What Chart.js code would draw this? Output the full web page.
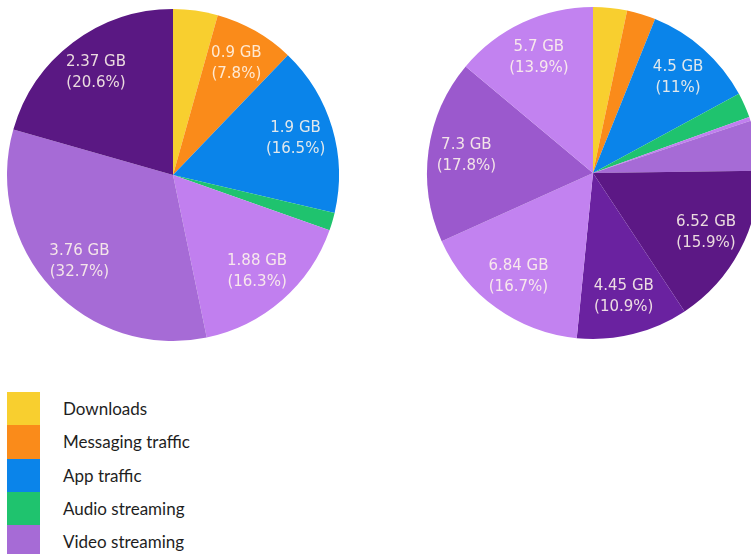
<!DOCTYPE html>
<html>
<head>
<meta charset="utf-8">
<script src="https://cdn.jsdelivr.net/npm/chart.js@4/dist/chart.umd.min.js"></script>
<style>
  html, body { margin: 0; padding: 0; background: #fff; }
  #page { position: relative; width: 751px; height: 554px; overflow: hidden; }
  #leftPie { position: absolute; left: 0; top: 0; }
  #rightPie { position: absolute; left: 420px; top: 0; }
  #legend { position: absolute; left: 7px; top: 392px; }
  .item { display: flex; align-items: center; height: 33.3px; }
  .box { width: 33px; height: 33.3px; }
  .text { margin-left: 23px; font: 17px Lato, "Noto Sans", sans-serif; color: #1e1e1e; }
</style>
</head>
<body>
<div id="page">
  <canvas id="leftPie" width="346" height="350"></canvas>
  <canvas id="rightPie" width="346" height="346"></canvas>
  <div id="legend"></div>
</div>
<script>
// legend categories
const legendLabels = ["Downloads", "Messaging traffic", "App traffic", "Audio streaming", "Video streaming"];
const legendColors = ["#f8cf2f", "#fa8b1a", "#0a84ea", "#1fc36e", "#a66bd6"];

// left pie (GB)
const leftLabels = ["Downloads", "Messaging traffic", "App traffic", "Audio streaming", "Web browsing", "Video streaming", "Social networking"];
const leftValues = [0.5, 0.9, 1.9, 0.2, 1.88, 3.76, 2.37];
const leftColors = ["#f8cf2f", "#fa8b1a", "#0a84ea", "#1fc36e", "#c17fef", "#a66bd6", "#5a1883"];

// right pie (GB)
const rightLabels = ["Downloads", "Messaging traffic", "App traffic", "Audio streaming", "Other", "Video streaming",
  "Social networking", "Video calls", "Web browsing", "Video streaming (2)", "Web browsing (2)"];
const rightValues = [1.35, 1.15, 4.5, 1.0, 0.15, 2.0, 6.52, 4.45, 6.84, 7.3, 5.7];
const rightColors = ["#f8cf2f", "#fa8b1a", "#0a84ea", "#1fc36e", "#c17fef", "#a66bd6",
  "#5c1885", "#6a22a0", "#c282f0", "#9b59cd", "#c282f0"];

const legendEl = document.getElementById("legend");
legendLabels.forEach((name, i) => {
  const row = document.createElement("div");
  row.className = "item";
  row.innerHTML = '<div class="box" style="background:' + legendColors[i] + '"></div><div class="text">' + name + "</div>";
  legendEl.appendChild(row);
});

// draws "x GB (y%)" inside the bigger slices
const sliceLabels = {
  id: "sliceLabels",
  afterDatasetsDraw(chart) {
    const ctx = chart.ctx;
    const data = chart.data.datasets[0].data;
    const total = data.reduce((a, b) => a + b, 0);
    chart.getDatasetMeta(0).data.forEach((arc, i) => {
      const pct = data[i] / total * 100;
      if (pct < 6) return;
      const p = arc.getProps(["x", "y", "startAngle", "endAngle", "outerRadius"], true);
      const mid = (p.startAngle + p.endAngle) / 2;
      const r = p.outerRadius * 0.77;
      const x = p.x + Math.cos(mid) * r;
      const y = p.y + Math.sin(mid) * r;
      let pctText = pct.toFixed(1).replace(/\.0$/, "");
      ctx.save();
      ctx.font = '15px "DejaVu Sans", sans-serif';
      ctx.fillStyle = "rgba(255,246,236,0.88)";
      ctx.textAlign = "center";
      ctx.textBaseline = "middle";
      ctx.fillText(data[i] + " GB", x, y - 10.5);
      ctx.fillText("(" + pctText + "%)", x, y + 10.5);
      ctx.restore();
    });
  }
};

function makePie(id, labels, values, colors) {
  return new Chart(document.getElementById(id).getContext("2d"), {
    type: "pie",
    data: {
      labels: labels,
      datasets: [{ data: values, backgroundColor: colors, borderWidth: 0 }]
    },
    options: {
      responsive: false,
      animation: false,
      layout: { padding: 7 },
      plugins: { legend: { display: false }, tooltip: { enabled: false } }
    },
    plugins: [sliceLabels]
  });
}

makePie("leftPie", leftLabels, leftValues, leftColors);
makePie("rightPie", rightLabels, rightValues, rightColors);
</script>
</body>
</html>
